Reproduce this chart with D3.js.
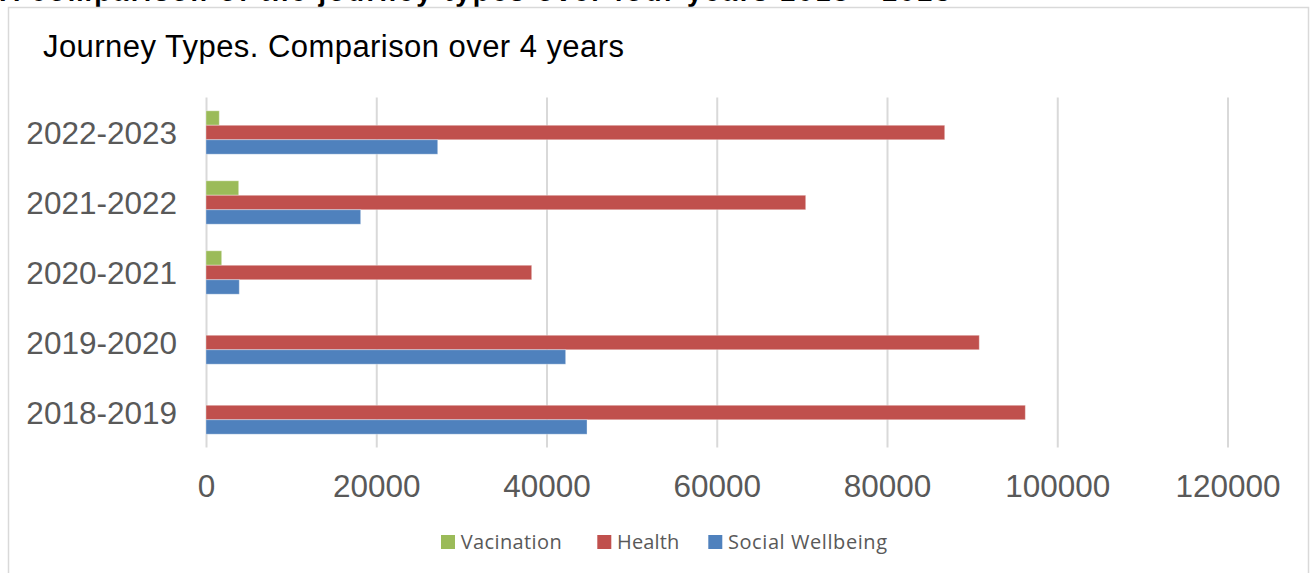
<!DOCTYPE html>
<html>
<head>
<meta charset="utf-8">
<script src="https://cdn.jsdelivr.net/npm/d3@7"></script>
<style>
  html, body { margin: 0; padding: 0; background: #fff; overflow: hidden; }
  svg { display: block; }
</style>
</head>
<body>
<svg id="chart" width="1310" height="573"></svg>
<script>
// Journey counts per financial year
const categories = ["2018-2019", "2019-2020", "2020-2021", "2021-2022", "2022-2023"];
const seriesNames = ["Vacination", "Health", "Social Wellbeing"];
const vacination = [0, 0, 1840, 3840, 1560];
const health = [96250, 90840, 38260, 70450, 86780];
const socialWellbeing = [44760, 42250, 3910, 18170, 27220];
const xTicks = [0, 20000, 40000, 60000, 80000, 100000, 120000];

const colors = { "Vacination": "#9bbb59", "Health": "#c0504d", "Social Wellbeing": "#4f81bd" };
const seriesValues = { "Vacination": vacination, "Health": health, "Social Wellbeing": socialWellbeing };

const rows = categories.map((c, i) => ({
  category: c,
  values: seriesNames.map(s => ({ series: s, value: seriesValues[s][i] }))
}));

const svg = d3.select("#chart");

// page heading (runs off the top of the page)
svg.append("text")
  .attr("x", 0).attr("y", 1)
  .attr("font-family", "Liberation Sans, Arial, sans-serif")
  .attr("font-weight", "bold")
  .attr("font-size", 27)
  .attr("textLength", 950)
  .attr("fill", "#000")
  .text("A comparison of the journey types over four years 2018 - 2023");

// chart frame
svg.append("rect")
  .attr("x", 8.5).attr("y", 7.5)
  .attr("width", 1300).attr("height", 600)
  .attr("fill", "#fff")
  .attr("stroke", "#d9d9d9").attr("stroke-width", 1.5);

svg.append("text")
  .attr("x", 43).attr("y", 56.7)
  .attr("font-family", "Liberation Sans, Arial, sans-serif")
  .attr("font-size", 31)
  .attr("textLength", 581)
  .attr("fill", "#000")
  .text("Journey Types. Comparison over 4 years");

const x = d3.scaleLinear().domain([0, 120000]).range([206, 1227.5]);
const y = d3.scaleBand()
  .domain(categories.slice().reverse())
  .range([97.5, 447.5])
  .paddingInner(0.38).paddingOuter(0.19);
const ySub = d3.scaleBand().domain(seriesNames).range([0, y.bandwidth()]);

// vertical gridlines
const grid = svg.append("g")
  .attr("transform", "translate(0,447.5)")
  .call(d3.axisBottom(x).tickValues(xTicks).tickSize(-350).tickFormat(""));
grid.select(".domain").remove();
grid.selectAll(".tick line").attr("stroke", "#d9d9d9").attr("stroke-width", 2);

// bars
const groups = svg.append("g").selectAll("g")
  .data(rows).join("g")
  .attr("transform", d => `translate(0,${y(d.category)})`);
groups.selectAll("rect")
  .data(d => d.values.filter(v => v.value > 0))
  .join("rect")
  .attr("x", x(0))
  .attr("y", d => ySub(d.series))
  .attr("width", d => x(d.value) - x(0))
  .attr("height", ySub.bandwidth())
  .attr("fill", d => colors[d.series])
  .attr("stroke", "rgba(255,255,255,0.35)")
  .attr("stroke-width", 1);

// x axis labels
const xAxis = svg.append("g")
  .attr("transform", "translate(0,447.5)")
  .call(d3.axisBottom(x).tickValues(xTicks).tickSize(0).tickPadding(0).tickFormat(d3.format("d")));
xAxis.select(".domain").remove();
xAxis.selectAll("text")
  .attr("y", 49.2).attr("dy", null)
  .attr("font-family", "Liberation Sans, Arial, sans-serif")
  .attr("font-size", 31.5)
  .attr("fill", "#595959");

// category labels
const yAxis = svg.append("g")
  .attr("transform", "translate(177,0)")
  .call(d3.axisLeft(y).tickSize(0).tickPadding(0));
yAxis.select(".domain").remove();
yAxis.selectAll("text")
  .attr("x", 0).attr("dy", "0.35em")
  .attr("font-family", "Liberation Sans, Arial, sans-serif")
  .attr("font-size", 31.5)
  .attr("fill", "#595959");

// legend
const legendItems = [
  { name: "Vacination", x: 441, w: 101 },
  { name: "Health", x: 597.3, w: 62.3 },
  { name: "Social Wellbeing", x: 708.3, w: 159 }
];
const legend = svg.append("g").selectAll("g")
  .data(legendItems).join("g")
  .attr("transform", d => `translate(${d.x},535)`);
legend.append("rect")
  .attr("width", 14).attr("height", 14)
  .attr("fill", d => colors[d.name]);
legend.append("text")
  .attr("x", 19.7).attr("y", 14)
  .attr("font-family", "Open Sans, Noto Sans, sans-serif")
  .attr("font-size", 20)
  .attr("textLength", d => d.w)
  .attr("fill", "#595959")
  .text(d => d.name);
</script>
</body>
</html>
